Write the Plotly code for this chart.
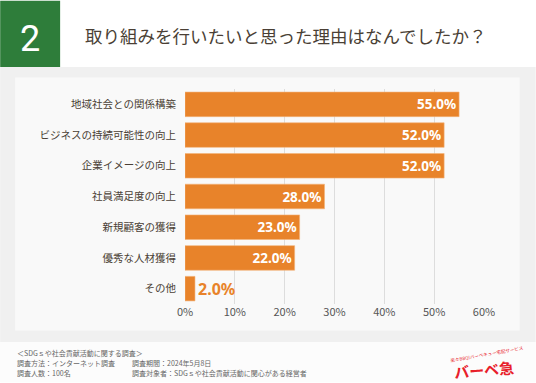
import plotly.graph_objects as go

categories = ["地域社会との関係構築", "ビジネスの持続可能性の向上", "企業イメージの向上",
              "社員満足度の向上", "新規顧客の獲得", "優秀な人材獲得", "その他"]
values = [55.0, 52.0, 52.0, 28.0, 23.0, 22.0, 2.0]
x_ticks = [0, 10, 20, 30, 40, 50, 60]
x_tick_labels = ["0%", "10%", "20%", "30%", "40%", "50%", "60%"]

title_text = "取り組みを行いたいと思った理由はなんでしたか？"
question_no = "2"
footer_lines_left = ["＜SDGｓや社会貢献活動に関する調査＞", "調査方法：インターネット調査", "調査人数：100名"]
footer_lines_right = ["調査期間：2024年5月8日", "調査対象者：SDGｓや社会貢献活動に関心がある経営者"]

W, H = 536, 383
L, R = 185, 484.3
T, B = 88.6, 304.5
PW, PH = R - L, B - T

def px(x):
    return (x - L) / PW

def py(y):
    return 1 - (y - T) / PH

FONT = "Noto Sans CJK JP"
ORANGE = "#E8832A"

inside = [v >= 10 for v in values]
text_pos = ["inside" if i else "outside" for i in inside]
text_col = ["white" if i else ORANGE for i in inside]

fig = go.Figure()
fig.add_trace(go.Bar(
    y=categories, x=values, orientation="h",
    marker=dict(color=ORANGE, line=dict(width=0.6, color="#F3B47A")),
    text=[f"{v:.1f}%" for v in values],
    textposition=text_pos,
    insidetextanchor="end",
    textfont=dict(family="Noto Sans", size=16, color=text_col, weight="bold"),
    cliponaxis=False,
    width=0.8,
    hoverinfo="skip",
))

shapes = [
    dict(type="rect", xref="paper", yref="paper", x0=px(0), x1=px(W), y0=py(343), y1=py(66.5),
         fillcolor="#F0F0F0", line=dict(width=0), layer="below"),
    dict(type="rect", xref="paper", yref="paper", x0=px(15), x1=px(520), y0=py(331), y1=py(77),
         fillcolor="#F9F9F9", line=dict(width=0), layer="below"),
    dict(type="rect", xref="paper", yref="paper", x0=px(0), x1=px(W), y0=py(H), y1=py(343),
         fillcolor="#FCFCFC", line=dict(width=0), layer="below"),
    dict(type="rect", xref="paper", yref="paper", x0=px(0), x1=px(60), y0=py(66.5), y1=py(0),
         fillcolor="#2E7D3A", line=dict(width=0), layer="below"),
]

annotations = [
    dict(text=question_no, xref="paper", yref="paper", x=px(30), y=py(38), xanchor="center", yanchor="middle",
         showarrow=False, font=dict(family="Liberation Sans Narrow, Roboto", size=36, color="white")),
    dict(text=title_text, xref="paper", yref="paper", x=px(83), y=py(35), xanchor="left", yanchor="middle",
         showarrow=False, font=dict(family=FONT, size=17.5, color="#4A3F35")),
]
fy = [354, 364, 374]
for i, t in enumerate(footer_lines_left):
    annotations.append(dict(text=t, xref="paper", yref="paper", x=px(15), y=py(fy[i]), xanchor="left",
                            yanchor="middle", showarrow=False, font=dict(family=FONT, size=7, color="#666666")))
for i, t in enumerate(footer_lines_right):
    annotations.append(dict(text=t, xref="paper", yref="paper", x=px(130), y=py(fy[i + 1]), xanchor="left",
                            yanchor="middle", showarrow=False, font=dict(family=FONT, size=7, color="#666666")))
annotations.append(dict(text="<b>バーベ急</b>", xref="paper", yref="paper", x=px(484), y=py(370),
                        xanchor="center", yanchor="middle", showarrow=False, textangle=-5,
                        font=dict(family=FONT, size=15, color="#E8202A")))
annotations.append(dict(text="楽々BBQ!バーベキュー宅配サービス", xref="paper", yref="paper", x=px(487), y=py(355),
                        xanchor="center", yanchor="middle", showarrow=False, textangle=-10,
                        font=dict(family=FONT, size=4.5, color="#E8202A")))

fig.update_layout(
    width=W, height=H,
    margin=dict(l=L, r=W - R, t=T, b=H - B, pad=0),
    paper_bgcolor="white", plot_bgcolor="rgba(0,0,0,0)",
    showlegend=False,
    bargap=0.2,
    shapes=shapes, annotations=annotations,
    xaxis=dict(range=[0, 60], tickvals=x_ticks, ticktext=x_tick_labels, showgrid=True,
               gridcolor="#DDDDDD", gridwidth=1, zeroline=False, showline=False,
               tickfont=dict(family=FONT, size=11, color="#555555"), fixedrange=True),
    yaxis=dict(autorange="reversed", showgrid=False, zeroline=False, showline=False,
               ticks="", ticklabelstandoff=8,
               tickfont=dict(family=FONT, size=10.5, color="#4A3F35"), fixedrange=True),
    font=dict(family=FONT),
)

fig.write_html("out.html", config={"displayModeBar": False},
               post_script="document.body.style.margin='0';document.body.style.overflow='hidden';")
